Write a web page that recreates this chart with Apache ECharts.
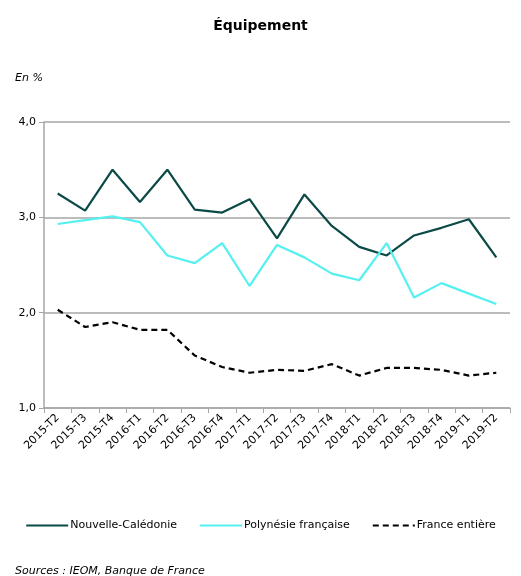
<!DOCTYPE html>
<html><head><meta charset="utf-8">
<script src="https://cdn.jsdelivr.net/npm/echarts@6/dist/echarts.min.js"></script>
<style>html,body{margin:0;padding:0;background:#fff}#c{width:521px;height:576px}</style>
</head><body><div id="c"></div>
<script>
const categories = ['2015-T2','2015-T3','2015-T4','2016-T1','2016-T2','2016-T3','2016-T4','2017-T1','2017-T2','2017-T3','2017-T4','2018-T1','2018-T2','2018-T3','2018-T4','2019-T1','2019-T2'];
const nouvelleCaledonie = [3.25,3.07,3.50,3.16,3.50,3.08,3.05,3.19,2.78,3.24,2.91,2.69,2.60,2.81,2.89,2.98,2.58];
const polynesie = [2.93,2.97,3.01,2.95,2.60,2.52,2.73,2.28,2.71,2.58,2.41,2.34,2.73,2.16,2.31,2.20,2.09];
const franceEntiere = [2.03,1.85,1.90,1.82,1.82,1.55,1.43,1.37,1.40,1.39,1.46,1.34,1.42,1.42,1.40,1.34,1.37];
const yTicks = [1,2,3,4];

const chart = echarts.init(document.getElementById('c'));
const F = 'DejaVu Sans, Verdana, sans-serif';
chart.setOption({
  animation:false,
  textStyle:{fontFamily:F},
  title:[
    {text:'Équipement',left:'center',top:14,textStyle:{fontFamily:F,fontSize:14,fontWeight:'bold',color:'#000'}},
    {text:'En %',left:10,top:68,textStyle:{fontFamily:F,fontSize:11,fontStyle:'italic',fontWeight:'normal',color:'#000'}},
    {text:'Sources : IEOM, Banque de France',left:10,top:561,textStyle:{fontFamily:F,fontSize:11,fontStyle:'italic',fontWeight:'normal',color:'#000'}}
  ],
  legend:{
    left:'center',top:515,itemWidth:42,itemHeight:10,itemGap:22,
    itemStyle:{opacity:0},
    textStyle:{fontFamily:F,fontSize:11,color:'#000',padding:[0,0,0,-3]},
    data:['Nouvelle-Calédonie','Polynésie française','France entière']
  },
  grid:{left:44,right:11,top:122,bottom:168},
  xAxis:{
    type:'category',data:categories,boundaryGap:true,
    axisLine:{lineStyle:{color:'#A6A6A6',width:1.5}},
    axisTick:{show:true,length:5,interval:0,lineStyle:{color:'#A6A6A6'}},
    axisLabel:{rotate:45,interval:0,fontSize:11,color:'#000',fontFamily:F,margin:8}
  },
  yAxis:{
    type:'value',min:yTicks[0],max:yTicks[yTicks.length-1],interval:1,
    axisLine:{show:true,lineStyle:{color:'#A6A6A6',width:1.5}},
    axisTick:{show:true,length:5,lineStyle:{color:'#A6A6A6'}},
    splitLine:{lineStyle:{color:'#A6A6A6',width:1.5}},
    axisLabel:{fontSize:11,color:'#000',fontFamily:F,margin:8,formatter:v=>v.toFixed(1).replace('.',',')}
  },
  series:[
    {name:'Nouvelle-Calédonie',type:'line',data:nouvelleCaledonie,symbol:'none',lineStyle:{color:'#0B4A46',width:2.2},itemStyle:{color:'#0B4A46'}},
    {name:'Polynésie française',type:'line',data:polynesie,symbol:'none',lineStyle:{color:'#55F0F0',width:2.2},itemStyle:{color:'#55F0F0'}},
    {name:'France entière',type:'line',data:franceEntiere,symbol:'none',lineStyle:{color:'#000',width:2.2,type:[6,4]},itemStyle:{color:'#000'}}
  ]
});
</script></body></html>
